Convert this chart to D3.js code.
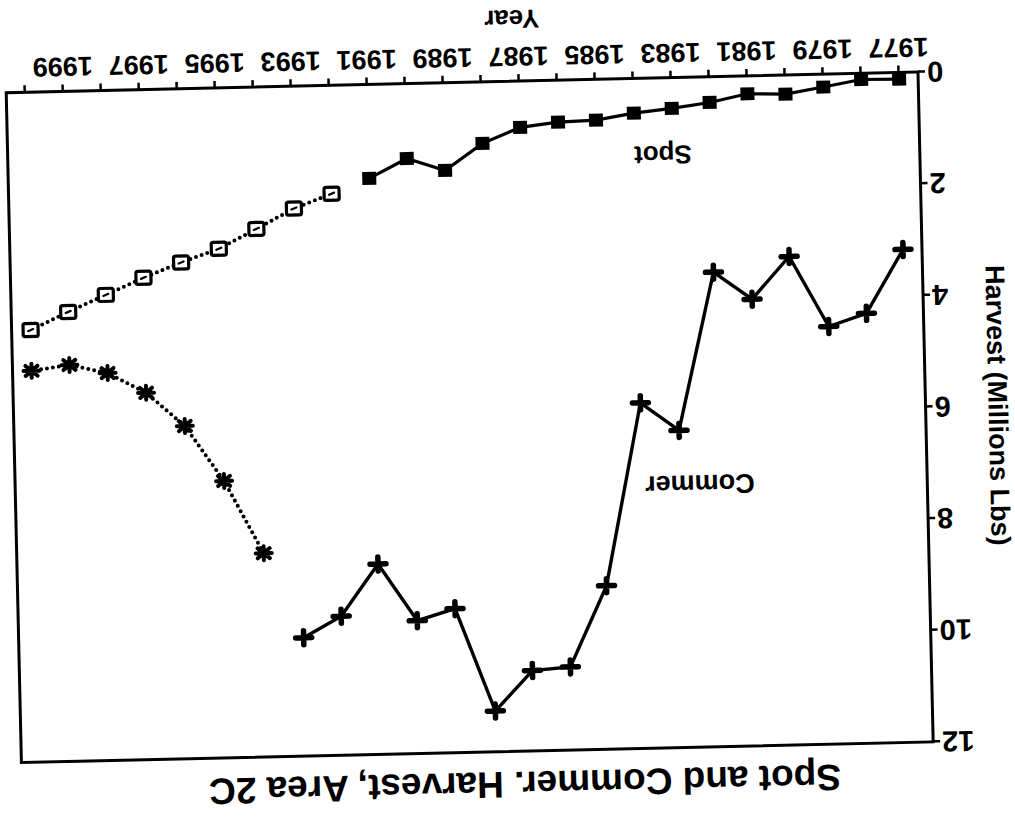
<!DOCTYPE html>
<html>
<head>
<meta charset="utf-8">
<script src="https://cdn.jsdelivr.net/npm/d3@7"></script>
<style>
  html, body { margin: 0; padding: 0; background: #fff; }
  svg { display: block; }
  text { font-family: "Liberation Sans", Arial, Helvetica, sans-serif; font-weight: bold; fill: #000; }
</style>
</head>
<body>
<svg id="chart" width="1015" height="822"></svg>
<script>
// ---- data (read from the scanned, upside-down chart) ----
const spotYears      = [1977,1978,1979,1980,1981,1982,1983,1984,1985,1986,1987,1988,1989,1990,1991];
const spotValues     = [0.12,0.11,0.23,0.34,0.32,0.46,0.55,0.62,0.73,0.75,0.83,1.10,1.57,1.34,1.68];
const spotProjYears  = [1992,1993,1994,1995,1996,1997,1998,1999,2000];
const spotProjValues = [1.94,2.19,2.54,2.88,3.11,3.37,3.66,3.95,4.26];
const commYears      = [1977,1978,1979,1980,1981,1982,1983,1984,1985,1986,1987,1988,1989,1990,1991,1992,1993];
const commValues     = [3.17,4.30,4.52,3.25,4.00,3.50,6.32,5.81,9.07,10.51,10.56,11.27,9.42,9.62,8.59,9.51,9.88];
const commProjYears  = [1994,1995,1996,1997,1998,1999,2000];
const commProjValues = [8.35,7.04,6.04,5.43,5.06,4.90,4.99];
const xTickYears     = [1977,1978,1979,1980,1981,1982,1983,1984,1985,1986,1987,1988,1989,1990,1991,1992,1993,1994,1995,1996,1997,1998,1999,2000];
const xLabelYears    = [1977,1979,1981,1983,1985,1987,1989,1991,1993,1995,1997,1999];
const yTicks         = [0,2,4,6,8,10,12];
const title          = "Spot and Commer. Harvest, Area 2C";
const xTitle         = "Year";
const yTitle         = "Harvest (Millions Lbs)";
const seriesLabels   = [{text:"Spot", year:1983.26, value:1.38, size:26},
                        {text:"Commer", year:1982.48, value:7.29, size:27}];

// ---- layout ----
const W = 912, H = 670;
const svg = d3.select("#chart");
// the scanned page is upside down and slightly skewed
const g = svg.append("g")
  .attr("transform", `translate(469.7,417.3) rotate(178.7) translate(${-W/2},${-H/2})`);

const x = d3.scaleLinear().domain([1976.5, 2000.5]).range([0, W]);
const y = d3.scaleLinear().domain([0, 12]).range([H, 0]);

// frame
g.append("rect").attr("x",0).attr("y",0).attr("width",W).attr("height",H)
  .attr("fill","none").attr("stroke","#000").attr("stroke-width",3);

// x axis
const xAxis = d3.axisBottom(x).tickValues(xTickYears).tickSize(7).tickFormat("");
const gx = g.append("g").attr("transform",`translate(0,${H})`).call(xAxis);
gx.select(".domain").remove();
gx.selectAll(".tick line").attr("stroke","#000").attr("stroke-width",2.5);
g.append("g").selectAll("text").data(xLabelYears).join("text")
  .attr("x", d => x(d)).attr("y", H + 25)
  .attr("text-anchor","middle").attr("dominant-baseline","central")
  .attr("font-size", 27).text(d => d);

// y axis
const yAxis = d3.axisLeft(y).tickValues(yTicks).tickSize(7).tickFormat("");
const gy = g.append("g").call(yAxis);
gy.select(".domain").remove();
gy.selectAll(".tick line").attr("stroke","#000").attr("stroke-width",2.5);
g.append("g").selectAll("text").data(yTicks).join("text")
  .attr("x", -9).attr("y", d => y(d))
  .attr("text-anchor","end").attr("dominant-baseline","central")
  .attr("font-size", 29).text(d => d);

// titles
g.append("text").attr("x", 409).attr("y", -33)
  .attr("text-anchor","middle").attr("dominant-baseline","central")
  .attr("font-size", 37).text(title);
g.append("text").attr("x", 405).attr("y", H + 62)
  .attr("text-anchor","middle").attr("dominant-baseline","central")
  .attr("font-size", 26).text(xTitle);
g.append("text").attr("transform", `translate(-72,${H/2}) rotate(-90)`)
  .attr("text-anchor","middle").attr("dominant-baseline","central")
  .attr("font-size", 27).text(yTitle);

// lines
const line = d3.line().x(d => x(d[0])).y(d => y(d[1]));
const zip = (a,b) => a.map((v,i) => [v, b[i]]);
const spot = zip(spotYears, spotValues);
const spotP = zip(spotProjYears, spotProjValues);
const comm = zip(commYears, commValues);
const commP = zip(commProjYears, commProjValues);

g.append("path").datum(spot).attr("d", line)
  .attr("fill","none").attr("stroke","#000").attr("stroke-width",3.2);
g.append("path").datum(comm).attr("d", line)
  .attr("fill","none").attr("stroke","#000").attr("stroke-width",3.4);
g.append("path").datum(spotP).attr("d", line)
  .attr("fill","none").attr("stroke","#000").attr("stroke-width",4)
  .attr("stroke-linecap","round").attr("stroke-dasharray","0 6");
g.append("path").datum(commP).attr("d", line)
  .attr("fill","none").attr("stroke","#000").attr("stroke-width",4)
  .attr("stroke-linecap","round").attr("stroke-dasharray","0 6");

// markers
// filled squares
g.append("g").selectAll("rect").data(spot).join("rect")
  .attr("x", d => x(d[0]) - 7).attr("y", d => y(d[1]) - 6.5)
  .attr("width", 14).attr("height", 13).attr("fill","#000");
// open squares with a small center mark
const os = g.append("g").selectAll("g").data(spotP).join("g")
  .attr("transform", d => `translate(${x(d[0])},${y(d[1])})`);
os.append("rect").attr("x",-7.5).attr("y",-6.5).attr("width",15).attr("height",13)
  .attr("rx",2).attr("fill","#fff").attr("stroke","#000").attr("stroke-width",3.2);
os.append("line").attr("x1",-2.5).attr("y1",1).attr("x2",2.5).attr("y2",-1)
  .attr("stroke","#000").attr("stroke-width",2.2).attr("stroke-linecap","round");
// plus markers
const pm = g.append("g").selectAll("g").data(comm).join("g")
  .attr("transform", d => `translate(${x(d[0])},${y(d[1])})`);
pm.append("path").attr("d","M-8,0H8M0,-7V7")
  .attr("stroke","#000").attr("stroke-width",5.5).attr("stroke-linecap","round");
// star markers
const sm = g.append("g").selectAll("g").data(commP).join("g")
  .attr("transform", d => `translate(${x(d[0])},${y(d[1])})`);
sm.append("path").attr("d","M-8,0H8M0,-7V7M-6,-5L6,5M-6,5L6,-5")
  .attr("stroke","#000").attr("stroke-width",4).attr("stroke-linecap","round");

// series labels
g.append("g").selectAll("text").data(seriesLabels).join("text")
  .attr("x", d => x(d.year)).attr("y", d => y(d.value))
  .attr("text-anchor","middle").attr("dominant-baseline","central")
  .attr("font-size", d => d.size).text(d => d.text);
</script>
</body>
</html>
